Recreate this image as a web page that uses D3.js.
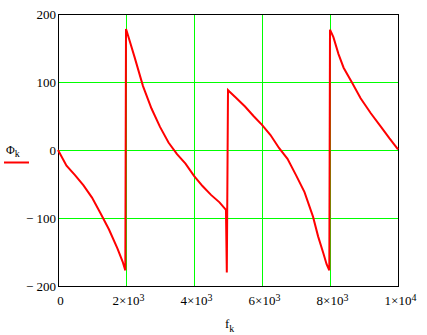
<!DOCTYPE html>
<html>
<head>
<meta charset="utf-8">
<script src="https://cdn.jsdelivr.net/npm/d3@7"></script>
<style>
  body { margin: 0; background: #fff; }
  svg { display: block; }
</style>
</head>
<body>
<div id="chart"></div>
<script>
// frequency samples f_k and phase Phi_k (degrees)
var fk = [0, 250, 500, 750, 1000, 1250, 1500, 1750, 1900, 1980,
  2000, 2020, 2250, 2500, 2750, 3000, 3250, 3500, 3750, 4000, 4250, 4500, 4750, 4940, 4965,
  5000, 5040, 5250, 5500, 5750, 6000, 6250, 6500, 6750, 7000, 7250, 7500, 7650, 7800, 7900, 7980,
  8000, 8100, 8250, 8400, 8650, 8900, 9200, 9500, 9750, 10000];
var phik = [0, -23, -37, -52, -70, -93, -117, -145, -164, -177,
  178, 175, 137, 94, 61, 34, 11, -6, -20, -38, -53, -66, -77, -88, -180,
  88, 86, 76, 64, 50, 37, 22, 3, -13, -37, -62, -98, -127, -151, -168, -177,
  177, 166, 141, 121, 99, 76, 54, 34, 17, 1];

var xTicks = [0, 2000, 4000, 6000, 8000, 10000];
var yTicks = [-200, -100, 0, 100, 200];
var xGrid = [2000, 4000, 6000, 8000];
var yGrid = [-100, 0, 100];

var serif = 'Liberation Serif';

var margin = {top: 14, right: 29, bottom: 49, left: 58};
var width = 427 - margin.left - margin.right;
var height = 335 - margin.top - margin.bottom;

var svg = d3.select('#chart').append('svg')
  .attr('width', 427)
  .attr('height', 335);

var g = svg.append('g')
  .attr('transform', 'translate(' + margin.left + ',' + margin.top + ')');

var x = d3.scaleLinear().domain([0, 10000]).range([0, width]);
var y = d3.scaleLinear().domain([-200, 200]).range([height, 0]);

// grid lines
g.append('g')
  .attr('transform', 'translate(0,' + height + ')')
  .call(d3.axisBottom(x).tickValues(xGrid).tickSize(-height).tickFormat(''))
  .call(function(s) { s.select('.domain').remove(); })
  .selectAll('line').attr('stroke', '#00ff00').attr('shape-rendering', 'crispEdges');

g.append('g')
  .call(d3.axisLeft(y).tickValues(yGrid).tickSize(-width).tickFormat(''))
  .call(function(s) { s.select('.domain').remove(); })
  .selectAll('line').attr('stroke', '#00ff00').attr('shape-rendering', 'crispEdges');

// y axis labels
g.append('g')
  .call(d3.axisLeft(y).tickValues(yTicks).tickSize(0).tickPadding(2)
    .tickFormat(function(d) { return d < 0 ? '\u2212 ' + Math.abs(d) : d; }))
  .call(function(s) { s.select('.domain').remove(); })
  .selectAll('text')
  .attr('font-family', serif)
  .attr('font-size', 13)
  .attr('dy', '0.38em')
  .attr('fill', '#000');

// x axis labels with superscript exponents
var xAxis = g.append('g')
  .attr('transform', 'translate(0,' + height + ')')
  .call(d3.axisBottom(x).tickValues(xTicks).tickSize(0).tickPadding(10).tickFormat(''))
  .call(function(s) { s.select('.domain').remove(); });

xAxis.selectAll('.tick text').each(function(d) {
  var t = d3.select(this)
    .attr('font-family', serif)
    .attr('font-size', 13)
    .attr('dy', '0.71em')
    .attr('fill', '#000')
    .attr('dx', 2);
  if (d === 0) {
    t.text('0');
    return;
  }
  var e = Math.floor(Math.log10(d));
  var m = d / Math.pow(10, e);
  t.append('tspan').text(m + '\u00d710');
  t.append('tspan').attr('dy', '-0.45em').attr('font-size', 10).text(e);
});

// frame
g.append('rect')
  .attr('width', width)
  .attr('height', height)
  .attr('fill', 'none')
  .attr('stroke', '#000')
  .attr('shape-rendering', 'crispEdges');

// trace
var line = d3.line()
  .x(function(d, i) { return x(fk[i]); })
  .y(function(d) { return y(d); });

g.append('path')
  .datum(phik)
  .attr('fill', 'none')
  .attr('stroke', '#ff0000')
  .attr('stroke-width', 2)
  .attr('d', line);

// axis title f_k
var xt = svg.append('text')
  .attr('x', 225)
  .attr('y', 328)
  .attr('font-family', serif)
  .attr('font-size', 13);
xt.append('tspan').text('f');
xt.append('tspan').attr('dy', 4).attr('font-size', 10).text('k');

// legend Phi_k
var lt = svg.append('text')
  .attr('x', 6)
  .attr('y', 154)
  .attr('font-family', serif)
  .attr('font-size', 12);
lt.append('tspan').text('\u03a6');
lt.append('tspan').attr('dy', 3).attr('font-size', 10).text('k');

svg.append('line')
  .attr('x1', 4).attr('x2', 29)
  .attr('y1', 162.5).attr('y2', 162.5)
  .attr('stroke', '#ff0000')
  .attr('stroke-width', 2);
</script>
</body>
</html>
